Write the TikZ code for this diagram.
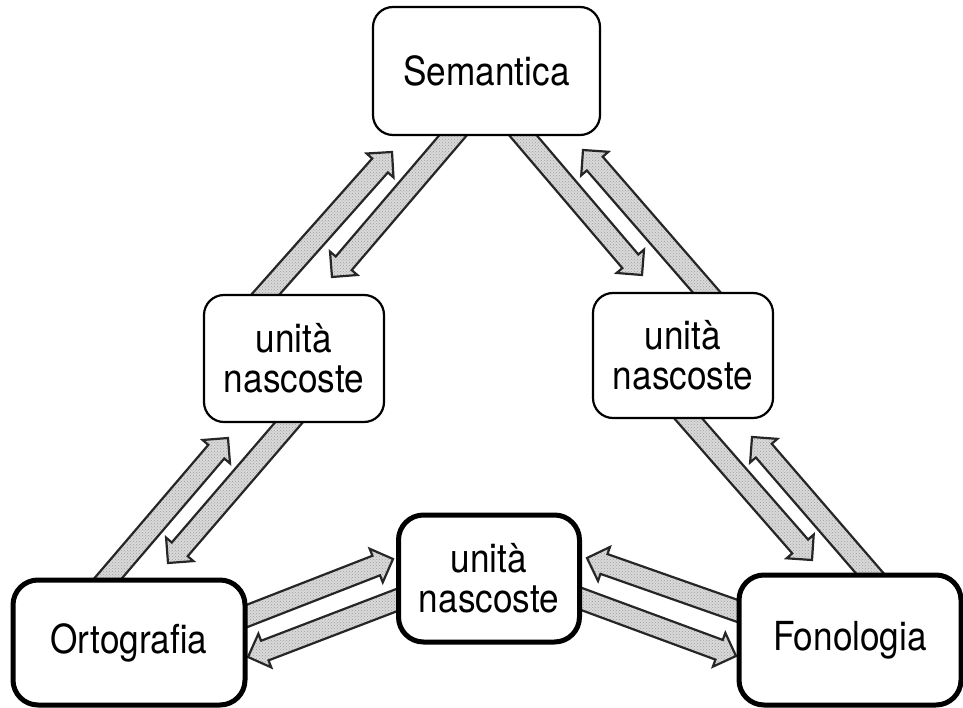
\documentclass[tikz,border=0pt]{standalone}
\usepackage{fontspec}
\newfontfamily\labelfont[FakeStretch=0.88]{TeX Gyre Heros}
\usetikzlibrary{calc,patterns}
\pgfdeclarelayer{back}
\pgfsetlayers{back,main}

% Broad block arrow from tail coordinate #1 to tip coordinate #2
\newcommand{\fatarrow}[2]{%
  \coordinate (#2-base) at ($(#2)!18pt!(#1)$);
  \draw[blockarrow]
    ($(#1)!10.5pt!90:(#2)$) -- ($(#2-base)!10.5pt!90:(#2)$) --
    ($(#2-base)!18pt!90:(#2)$) -- (#2) --
    ($(#2-base)!18pt!-90:(#2)$) -- ($(#2-base)!10.5pt!-90:(#2)$) --
    ($(#1)!10.5pt!-90:(#2)$) -- cycle;
}

\begin{document}
\begin{tikzpicture}[x=1pt,y=-1pt,
  box/.style={draw, fill=white, rounded corners=20pt, line width=2.2pt,
    font=\labelfont\fontsize{40}{40}\selectfont, align=center, inner sep=0pt},
  thickbox/.style={box, line width=5pt, rounded corners=25pt},
  blockarrow/.style={draw=black!85, line width=2.2pt, line join=miter,
    preaction={fill=gray!30}, pattern=crosshatch dots, pattern color=gray!75}]

\useasboundingbox (0,0) rectangle (963,708);

% boxes
\node[box, minimum width=227pt, minimum height=128pt] (sem) at (486.5,71) {Semantica};
\node[box, minimum width=180pt, minimum height=127pt] (lu) at (294,358.5) {unità\\nascoste};
\node[box, minimum width=180pt, minimum height=125pt] (ru) at (683,355.5) {unità\\nascoste};
\node[thickbox, minimum width=181pt, minimum height=127pt] (mid) at (489,578.5) {unità\\nascoste};
\node[thickbox, minimum width=232pt, minimum height=125pt] (ort) at (129,642.5) {Ortografia};
\node[thickbox, minimum width=222pt, minimum height=130pt] (fon) at (850,640) {Fonologia};

% arrow ends
\coordinate (s1) at ($(lu)+(-37,-54.5)$);   \coordinate (t1) at ($(sem)+(-94.5,81)$);
\coordinate (s2) at ($(sem)+(-25.5,55)$);   \coordinate (t2) at ($(lu)+(38,-81.5)$);
\coordinate (s3) at ($(sem)+(28.5,55)$);    \coordinate (t3) at ($(ru)+(-41,-80.5)$);
\coordinate (s4) at ($(ru)+(32,-53.5)$);    \coordinate (t4) at ($(sem)+(96.5,79)$);
\coordinate (s5) at ($(ort)+(-30,-53.5)$);  \coordinate (t5) at ($(lu)+(-66,79.5)$);
\coordinate (s6) at ($(lu)+(3,54.5)$);      \coordinate (t6) at ($(ort)+(39,-79.5)$);
\coordinate (s7) at ($(ru)+(-3,53.5)$);     \coordinate (t7) at ($(fon)+(-38,-80)$);
\coordinate (s8) at ($(fon)+(29,-56)$);     \coordinate (t8) at ($(ru)+(69,81.5)$);
\coordinate (s9) at ($(ort)+(105,-21.5)$);  \coordinate (t9) at ($(mid)+(-96,-19.5)$);
\coordinate (s10) at ($(mid)+(-79,16.5)$);  \coordinate (t10) at ($(ort)+(119,14.5)$);
\coordinate (s11) at ($(fon)+(-101,-25)$);  \coordinate (t11) at ($(mid)+(98,-20.5)$);
\coordinate (s12) at ($(mid)+(79,15.5)$);   \coordinate (t12) at ($(fon)+(-114,16)$);

\begin{pgfonlayer}{back}
  \fill[white] (0,0) rectangle (963,708);
  \fatarrow{s1}{t1}  \fatarrow{s2}{t2}
  \fatarrow{s3}{t3}  \fatarrow{s4}{t4}
  \fatarrow{s5}{t5}  \fatarrow{s6}{t6}
  \fatarrow{s7}{t7}  \fatarrow{s8}{t8}
  \fatarrow{s9}{t9}  \fatarrow{s10}{t10}
  \fatarrow{s11}{t11} \fatarrow{s12}{t12}
\end{pgfonlayer}
\end{tikzpicture}
\end{document}
